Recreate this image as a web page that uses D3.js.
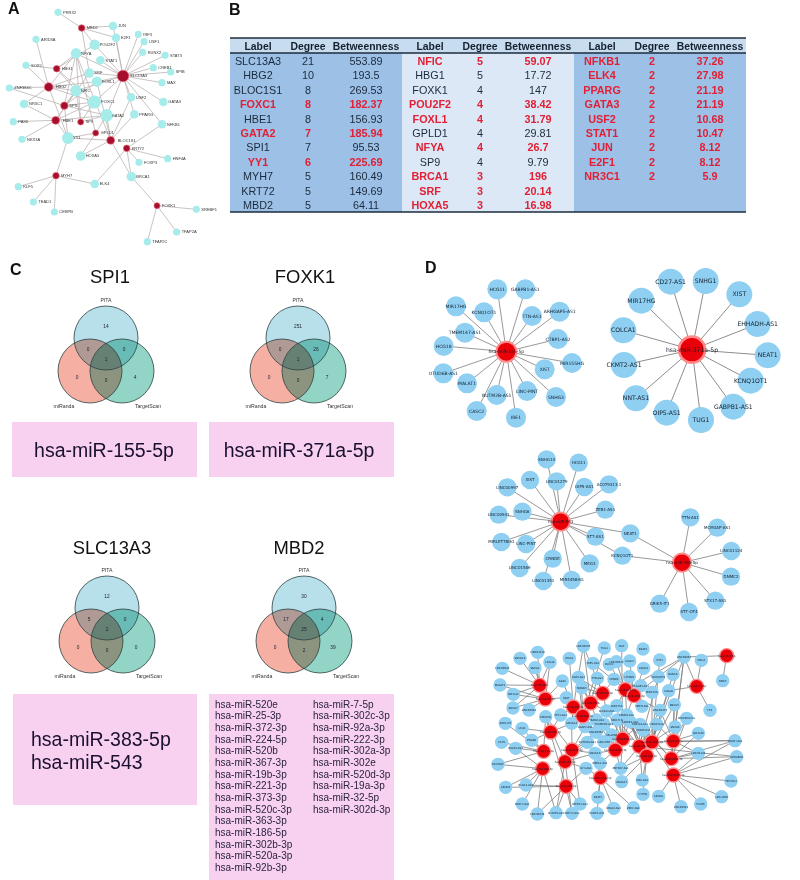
<!DOCTYPE html>
<html>
<head>
<meta charset="utf-8">
<style>
  html, body { margin: 0; background: #fff; }
  svg { display: block; filter: blur(0.35px); }
  text { font-family: "Liberation Sans", Arial, sans-serif; }
  .net text { font-family: "DejaVu Sans", sans-serif; }
</style>
<script src="https://cdn.jsdelivr.net/npm/d3@7"></script>
</head>
<body>
<svg class="vis" width="800" height="880"></svg>
<script>
// ---- panel B table
const tfLabels = [
  ['SLC13A3','HBG2','BLOC1S1','FOXC1','HBE1','GATA2','SPI1','YY1','MYH7','KRT72','MBD2'],
  ['NFIC','HBG1','FOXK1','POU2F2','FOXL1','GPLD1','NFYA','SP9','BRCA1','SRF','HOXA5'],
  ['NFKB1','ELK4','PPARG','GATA3','USF2','STAT1','JUN','E2F1','NR3C1']
];
const tfDegree = [
  [21,10,8,8,8,7,7,6,5,5,5],
  [5,5,4,4,4,4,4,4,3,3,3],
  [2,2,2,2,2,2,2,2,2]
];
const tfBetweenness = [
  ['553.89','193.5','269.53','182.37','156.93','185.94','95.53','225.69','160.49','149.69','64.11'],
  ['59.07','17.72','147','38.42','31.79','29.81','26.7','9.79','196','20.14','16.98'],
  ['37.26','27.98','21.19','21.19','10.68','10.47','8.12','8.12','5.9']
];
const tfNotHighlighted = ['SLC13A3','HBG2','BLOC1S1','HBE1','SPI1','MYH7','KRT72','MBD2','HBG1','FOXK1','GPLD1','SP9'];
const tableHeads = ['Label','Degree','Betweenness'];

// ---- panel A network: layout [name, x, y]
const geneNodes = [
  ['SLC13A3',369,228],['HBG2',146,261],['BLOC1S1',332,421],['HBE1',167,361],['SPI1',193,317],
  ['MYH7',168,527],['KRT72',380,445],['MBD2',245,84],['HBG1',170,206],['FOXK1',471,617],
  ['GPLD1',287,399],['SP9',242,366]
];
const tfNodes = [
  ['PRRX2',174,37],['JUN',339,78],['E2F1',348,113],['IRF3',415,103],['USF1',432,125],['RUNX2',428,157],
  ['STAT3',495,166],['CREB1',460,203],['SPIB',512,216],['MAX',486,248],['GATA3',490,306],['USF2',393,292],
  ['PPARG',403,343],['NFKB1',486,373],['POU2F2',284,134],['NFYA',228,160],['STAT1',301,181],['SRF',268,219],
  ['FOXL1',291,245],['NFIC',228,272],['FOXC1',283,306],['GATA2',320,346],['YY1',204,414],['HOXA5',242,468],
  ['FOXP3',417,487],['HNF4A',503,476],['BRCA1',394,530],['ELK4',284,552],['ARID3A',108,118],['SOX5',78,196],
  ['ZNF384C',28,264],['NR3C1',72,312],['PAX6',40,365],['NKX3A',66,418],['KLF5',55,560],['TEAD1',100,606],
  ['CEBPB',163,636],['SREBF1',589,628],['TFAP2A',530,696],['TFAP2C',442,725]
];
const geneLinks = {
  SLC13A3: ['JUN','E2F1','IRF3','USF1','RUNX2','STAT3','CREB1','SPIB','MAX','GATA3','USF2','PPARG','NFKB1','POU2F2','NFYA','STAT1','SRF','FOXL1','FOXC1','GATA2','NFIC'],
  HBG2: ['ARID3A','SOX5','ZNF384C','NR3C1','NFYA','SRF','NFIC','FOXC1','YY1','FOXL1'],
  HBG1: ['NFYA','SOX5','POU2F2','FOXC1','NFIC'],
  BLOC1S1: ['GATA2','FOXL1','HOXA5','YY1','BRCA1','USF2','PPARG','NFYA'],
  HBE1: ['NR3C1','PAX6','NKX3A','YY1','NFIC','FOXC1','GATA2','SRF'],
  SPI1: ['NFIC','FOXC1','NFYA','YY1','ZNF384C','FOXL1','GATA2'],
  MYH7: ['YY1','KLF5','TEAD1','CEBPB','ELK4'],
  KRT72: ['FOXP3','HNF4A','BRCA1','ELK4','NFKB1'],
  MBD2: ['PRRX2','JUN','E2F1','POU2F2','SRF'],
  GPLD1: ['YY1','GATA2','HOXA5','NFYA'],
  SP9: ['FOXC1','NFIC','GATA2','NFYA'],
  FOXK1: ['BRCA1','SREBF1','TFAP2A','TFAP2C']
};

// ---- panel C venns: [only PITA, PITA+miRanda, PITA+TargetScan, all, only miRanda, miRanda+TargetScan, only TargetScan]
const vennTitles = ['SPI1','FOXK1','SLC13A3','MBD2'];
const vennCounts = [
  [14,0,0,1,0,0,4],
  [251,0,26,1,0,0,7],
  [12,5,0,2,0,0,0],
  [30,17,4,25,0,2,39]
];
const vennSets = ['PITA','miRanda','TargetScan'];
const mirBox1 = ['hsa-miR-155-5p'];
const mirBox2 = ['hsa-miR-371a-5p'];
const mirBox3 = ['hsa-miR-383-5p','hsa-miR-543'];
const mirListA = ['hsa-miR-520e','hsa-miR-25-3p','hsa-miR-372-3p','hsa-miR-224-5p','hsa-miR-520b','hsa-miR-367-3p','hsa-miR-19b-3p','hsa-miR-221-3p','hsa-miR-373-3p','hsa-miR-520c-3p','hsa-miR-363-3p','hsa-miR-186-5p','hsa-miR-302b-3p','hsa-miR-520a-3p','hsa-miR-92b-3p'];
const mirListB = ['hsa-miR-7-5p','hsa-miR-302c-3p','hsa-miR-92a-3p','hsa-miR-222-3p','hsa-miR-302a-3p','hsa-miR-302e','hsa-miR-520d-3p','hsa-miR-19a-3p','hsa-miR-32-5p','hsa-miR-302d-3p'];

// ---- panel D networks: layout [name, x, y]
const star155Hub = ['hsa-miR-155-5p',289,290];
const star155Leaves = [
  ['HCG11',262,103],['GABPB1-AS1',346,103],['MIR17HG',138,154],['KCNQ1OT1',222,172],['TTN-AS1',366,183],
  ['ARHGAP5-AS1',449,170],['TMEM147-AS1',165,233],['CTBP1-AS2',444,252],['HCG18',101,273],['MIR155HG',486,324],
  ['OTUD6B-AS1',100,355],['XIST',404,343],['MALAT1',171,385],['LINC-PINT',351,408],['NUTM2B-AS1',260,420],
  ['SNHG3',438,426],['CASC2',200,468],['IRE1',318,488]
];
const star371Hub = ['hsa-miR-371a-5p',846,284];
const star371Leaves = [
  ['CD27-AS1',782,80],['SNHG1',887,78],['XIST',988,118],['MIR17HG',694,137],['EHHADH-AS1',1043,207],
  ['COLCA1',640,226],['NEAT1',1073,301],['CKMT2-AS1',642,330],['KCNQ1OT1',1022,377],['NNT-AS1',678,430],
  ['GABPB1-AS1',970,455],['OIP5-AS1',770,473],['TUG1',873,495]
];
const pairHubs = [['hsa-miR-543',332,245],['hsa-miR-383-5p',696,368]];
const pairLeaves = [
  ['SNHG14',290,58],['HCG11',386,68],['XIST',240,120],['LINC01279',320,124],['OIP5-AS1',403,141],
  ['AC079313.1',477,133],['LINC00997',172,142],['ZEB1-AS1',466,209],['LINC00941',146,224],['SNHG6',217,215],
  ['ST7-AS1',436,290],['NEAT1',541,280],['MIRLET7BHG',154,306],['LINC-PINT',228,312],['CRNDE',308,356],
  ['LINC01589',209,384],['MEG3',419,370],['MIR4458HG',365,420],['LINC01351',280,423],['KCNQ1OT1',517,347],
  ['TTN-AS1',721,232],['MCM3AP-AS1',802,263],['LINC01124',844,333],['DNMC2',843,410],['STX17-AS1',796,482],
  ['ST7-OT4',717,516],['GRIK5-IT1',629,491]
];
const pairLinksA = ['SNHG14','HCG11','XIST','LINC01279','OIP5-AS1','AC079313.1','LINC00997','ZEB1-AS1','LINC00941','SNHG6','ST7-AS1','NEAT1','MIRLET7BHG','LINC-PINT','CRNDE','LINC01589','MEG3','MIR4458HG','LINC01351','KCNQ1OT1'];
const pairLinksB = ['NEAT1','KCNQ1OT1','TTN-AS1','MCM3AP-AS1','LINC01124','DNMC2','STX17-AS1','ST7-OT4','GRIK5-IT1'];

const denseHubs = [
  ['hsa-miR-7-5p',740,62],['hsa-miR-32-5p',650,154],['hsa-miR-520e',179,151],['hsa-miR-25-3p',196,192],
  ['hsa-miR-372-3p',368,175],['hsa-miR-224-5p',436,164],['hsa-miR-302c-3p',462,182],['hsa-miR-520b',332,204],
  ['hsa-miR-367-3p',280,216],['hsa-miR-19b-3p',308,243],['hsa-miR-221-3p',212,291],['hsa-miR-92a-3p',428,312],
  ['hsa-miR-222-3p',478,334],['hsa-miR-302a-3p',516,321],['hsa-miR-302e',580,318],['hsa-miR-373-3p',191,349],
  ['hsa-miR-520c-3p',276,345],['hsa-miR-520d-3p',406,345],['hsa-miR-19a-3p',500,363],['hsa-miR-302d-3p',574,371],
  ['hsa-miR-363-3p',255,380],['hsa-miR-186-5p',188,401],['hsa-miR-302b-3p',580,420],['hsa-miR-520a-3p',361,428],
  ['hsa-miR-92b-3p',258,454]
];
const denseLeaves = [
  ['LINC00265',310,33],['TUG1',373,39],['XIST',425,32],['NEAT1',489,42],['LINC00667',612,66],['MEG3',664,76],
  ['SNHG16',120,70],['LINC01128',173,52],['ZFAS1',268,70],['HCG18',210,82],['SNHG1',165,98],['LINC00943',67,100],
  ['MALAT1',60,150],['SNHG12',100,178],['GAS5',247,138],['FGD5-AS1',295,127],['TTN-AS1',352,130],['OIP5-AS1',339,85],
  ['DLEU2',388,88],['LINC00921',409,80],['CASC2',449,78],['SNHG3',491,100],['PVT1',539,75],['KCNQ1OT1',535,125],
  ['DANCR',579,118],['HOTAIR',448,125],['CRNDE',402,133],['RMST',728,137],['NORAD',305,158],['MIAT',259,188],
  ['SNHG7',99,219],['LINC00662',147,225],['EMX2OS',197,245],['SOX2-OT',76,265],['UCA1',126,280],['TP73-AS1',242,240],
  ['HAGLR',566,167],['MIR22HG',516,172],['DLGAP1-AS1',482,152],['SNHG5',583,209],['TMPO-AS1',486,214],['LINC00472',540,226],
  ['FTX',690,226],['MIR29B2CHG',620,250],['SNHG6',585,276],['LINC01128',530,268],['FAM13A-AS1',480,268],['SNHG14',275,265],
  ['AGAP2-AS1',316,275],['TRAM2-AS1',350,255],['SLC9A3-AS1',380,228],['LRRC75A',410,212],['PSMD5-AS1',440,240],['THUMPD3-AS1',372,268],
  ['MIR17HG',412,255],['GABPB1-AS1',450,260],['LINC00963',348,292],['LINC-PINT',372,320],['NUTM2A-AS1',322,322],['RPARP-AS1',490,285],
  ['SNHG20',655,295],['HCP5',65,322],['BASP1-AS1',107,340],['PWAR6',155,316],['SNHG10',345,355],['MCM3AP',54,388],
  ['ILF3-AS1',318,400],['MBNL1-AS1',360,385],['ZNF667-AS1',422,400],['SNHG17',425,440],['DBH-AS1',487,435],['LINC01184',655,355],
  ['TDRKH-AS1',765,317],['HOTAIRM1',770,365],['TP53TG1',753,438],['LINC-ROR',725,485],['PCAT6',662,507],['LINC00641',603,515],
  ['SNHG8',536,484],['CYTOR',489,478],['SNHG9',77,457],['RUSC1-AS1',138,450],['NR2F2-AS1',127,507],['LINC00346',172,537],
  ['SH3BP5-AS1',228,533],['WDFY3-AS2',276,535],['ATP2B1-AS1',300,507],['NEAT2',354,487],['PAXIP1-AS2',351,535],['MAGI2-AS3',401,520],
  ['ZEB2-AS1',460,518],['HELLPAR',395,300]
];
const denseLinks = [
  [27,4],[5,42,4,36],[6,7,10,11,12,13,9,30],[9,10,13,30,31,12,14,29],[16,15,26,50,28,0],
  [17,18,19,25,26,51,52,4],[20,21,25,38,4,40,52,41],[15,16,28,50,49,47,0],[0,8,14,29,35,47,48],[15,28,47,48,49,56,1],
  [34,32,35,63,47],[51,54,53,55,91,68,46,50,52,2],[46,59,45,55,23,68,70,52,54,73,41],[45,59,44,4,36,37,22,24,72,55,54],[44,60,43,39,4,71,41,72,45],
  [63,61,62,65,34,33,32],[58,47,32,64,56,86,48],[57,91,54,67,68,56,64,53,49],[59,70,68,79,69,39,52,45,55],[71,60,44,39,43,4,73,72,46,59],
  [58,64,66,32,84,85],[65,80,81,82,83,62,84],[72,73,74,75,76,77,78,71,59],[66,67,87,88,89,90,64],[80,81,83,84,85,86,66,32]
];

// ---- drawing
const svg = d3.select('svg.vis');

const layoutScales = (ox, oy) => ({
  x: d3.scaleLinear().domain([0, 300]).range([ox, ox + 100]),
  y: d3.scaleLinear().domain([0, 300]).range([oy, oy + 100])
});

const panelLetter = (txt, x, y) => {
  svg.append('text').text(txt).attr('x', x).attr('y', y)
    .attr('font-size', 16).attr('font-weight', 'bold').attr('fill', '#111');
};

const drawTfNetwork = () => {
  const s = layoutScales(0, 0);
  const g = svg.append('g').attr('class', 'panel-a');
  const all = new Map(geneNodes.concat(tfNodes).map(d => [d[0], d]));
  const degree = new Map(tfLabels.flat().map((l, i) => [l, tfDegree.flat()[i]]));
  const rGene = d3.scaleSqrt().domain([4, 21]).range([3, 5.8]);
  const rTf = d3.scaleSqrt().domain([1, 8]).range([3.6, 6.6]);

  const links = Object.entries(geneLinks).flatMap(([a, bs]) => bs.map(b => [a, b]));
  g.selectAll('line').data(links).join('line')
    .attr('x1', d => s.x(all.get(d[0])[1])).attr('y1', d => s.y(all.get(d[0])[2]))
    .attr('x2', d => s.x(all.get(d[1])[1])).attr('y2', d => s.y(all.get(d[1])[2]))
    .attr('stroke', '#bcb4b4').attr('stroke-width', 0.8);

  g.selectAll('circle.tf').data(tfNodes).join('circle').attr('class', 'tf')
    .attr('cx', d => s.x(d[1])).attr('cy', d => s.y(d[2]))
    .attr('r', d => rTf(degree.get(d[0]) || 1))
    .attr('fill', '#a6eceb');
  g.selectAll('circle.gene').data(geneNodes).join('circle').attr('class', 'gene')
    .attr('cx', d => s.x(d[1])).attr('cy', d => s.y(d[2]))
    .attr('r', d => rGene(degree.get(d[0])))
    .attr('fill', '#a50f2d').attr('stroke', '#e9626f').attr('stroke-width', 0.7);

  g.selectAll('text').data(geneNodes.concat(tfNodes)).join('text')
    .text(d => d[0])
    .attr('x', d => s.x(d[1]) + (degree.get(d[0]) > 7 ? 7 : 5)).attr('y', d => s.y(d[2]) + 1.4)
    .attr('font-size', 4).attr('fill', '#333');
};

const drawTable = () => {
  const g = svg.append('g').attr('class', 'panel-b');
  const groupX = d3.scaleLinear().domain([0, 3]).range([230, 746]);
  const rowY = d3.scaleLinear().domain([0, 10]).range([61, 205]);
  const colOffset = d3.scaleOrdinal().domain(tableHeads).range([28, 78, 136]);
  const bands = ['#9cc0e6', '#dce8f6', '#9cc0e6'];

  tfLabels.forEach((labels, i) => {
    g.append('rect').attr('x', groupX(i)).attr('y', 38)
      .attr('width', groupX(i + 1) - groupX(i)).attr('height', 174).attr('fill', bands[i]);
  });
  g.append('rect').attr('x', 230).attr('y', 38).attr('width', 516).attr('height', 15).attr('fill', '#c8dcf0');
  [38, 53, 212].forEach(y => {
    g.append('line').attr('x1', 230).attr('x2', 746).attr('y1', y).attr('y2', y)
      .attr('stroke', '#1d2c3c').attr('stroke-width', 1.3);
  });

  tfLabels.forEach((labels, i) => {
    const x0 = groupX(i);
    tableHeads.forEach(h => {
      g.append('text').text(h).attr('x', x0 + colOffset(h)).attr('y', 50)
        .attr('text-anchor', 'middle').attr('font-size', 10.4).attr('font-weight', 'bold').attr('fill', '#14202e');
    });
    labels.forEach((l, r) => {
      const hot = !tfNotHighlighted.includes(l);
      const cells = [l, tfDegree[i][r], tfBetweenness[i][r]];
      cells.forEach((c, k) => {
        g.append('text').text(c)
          .attr('x', x0 + colOffset(tableHeads[k])).attr('y', rowY(r) + 3.9)
          .attr('text-anchor', 'middle').attr('font-size', 10.8)
          .attr('font-weight', hot ? 'bold' : 'normal')
          .attr('fill', hot ? '#e21f35' : '#1b2a3c');
      });
    });
  });
};

const drawVenn = (i, cx, topY) => {
  const g = svg.append('g').attr('class', 'venn');
  const vx = d3.scaleLinear().domain([-1, 1]).range([cx - 16, cx + 16]);
  const circles = [
    { set: vennSets[0], x: 0, y: 0, fill: '#b7e0ea' },
    { set: vennSets[1], x: -1, y: 33, fill: '#f5b0a3' },
    { set: vennSets[2], x: 1, y: 33, fill: '#92d5c6' }
  ];
  g.selectAll('circle.fill').data(circles).join('circle').attr('class', 'fill')
    .attr('cx', d => vx(d.x)).attr('cy', d => topY + d.y).attr('r', 32)
    .attr('fill', d => d.fill).style('mix-blend-mode', 'multiply');
  g.selectAll('circle.ring').data(circles).join('circle').attr('class', 'ring')
    .attr('cx', d => vx(d.x)).attr('cy', d => topY + d.y).attr('r', 32)
    .attr('fill', 'none').attr('stroke', '#2c4040').attr('stroke-width', 0.8);

  // count positions inside the seven regions
  const spots = [[0, -12], [-18, 11], [18, 11], [0, 21], [-29, 39], [0, 42], [29, 39]];
  spots.forEach((p, k) => {
    g.append('text').text(vennCounts[i][k]).attr('x', cx + p[0]).attr('y', topY + p[1] + 1.6)
      .attr('text-anchor', 'middle').attr('font-size', 4.8).attr('fill', '#223');
  });
  g.append('text').text(vennSets[0]).attr('x', cx).attr('y', topY - 36)
    .attr('text-anchor', 'middle').attr('font-size', 5.2).attr('fill', '#333');
  g.append('text').text(vennSets[1]).attr('x', cx - 42).attr('y', topY + 70)
    .attr('text-anchor', 'middle').attr('font-size', 5.2).attr('fill', '#333');
  g.append('text').text(vennSets[2]).attr('x', cx + 42).attr('y', topY + 70)
    .attr('text-anchor', 'middle').attr('font-size', 5.2).attr('fill', '#333');
};

const drawVennPanel = () => {
  const titleSpots = [[110, 283], [305, 283], [112, 554], [299, 554]];
  const vennSpots = [[106, 338], [298, 338], [107, 608], [304, 608]];
  vennTitles.forEach((t, i) => {
    svg.append('text').text(t).attr('x', titleSpots[i][0]).attr('y', titleSpots[i][1])
      .attr('text-anchor', 'middle').attr('font-size', 18.4).attr('fill', '#111');
    drawVenn(i, vennSpots[i][0], vennSpots[i][1]);
  });

  const pink = '#f8d0f0';
  const box = (x, y, w, h) => svg.append('rect').attr('x', x).attr('y', y)
    .attr('width', w).attr('height', h).attr('fill', pink);
  box(12, 422, 185, 55);
  box(209, 422, 185, 55);
  box(13, 694, 184, 111);
  box(209, 694, 185, 186);

  const big = (txt, x, y, anchor) => svg.append('text').text(txt).attr('x', x).attr('y', y)
    .attr('text-anchor', anchor).attr('font-size', 19.5).attr('fill', '#1a1030');
  big(mirBox1[0], 104, 457, 'middle');
  big(mirBox2[0], 299, 457, 'middle');
  mirBox3.forEach((m, i) => big(m, 31, 746 + i * 23, 'start'));

  const listY = d3.scaleLinear().domain([0, 14]).range([707.5, 871]);
  [[mirListA, 215], [mirListB, 313]].forEach(([list, x]) => {
    svg.append('g').selectAll('text').data(list).join('text')
      .text(d => d).attr('x', x).attr('y', (d, i) => listY(i))
      .attr('font-size', 10).attr('fill', '#2a2440');
  });
};

const drawHubNet = (ox, oy, hubs, leaves, links, opt) => {
  const s = layoutScales(ox, oy);
  const g = svg.append('g').attr('class', 'net');
  const leafBy = new Map(leaves.map(d => [d[0], d]));
  const lines = [];
  hubs.forEach((h, i) => links[i].forEach(l => lines.push([h, typeof l === 'number' ? leaves[l] : leafBy.get(l)])));

  g.selectAll('line').data(lines).join('line')
    .attr('x1', d => s.x(d[0][1])).attr('y1', d => s.y(d[0][2]))
    .attr('x2', d => s.x(d[1][1])).attr('y2', d => s.y(d[1][2]))
    .attr('stroke', opt.edgeColor).attr('stroke-width', opt.edge);
  g.selectAll('circle.leaf').data(leaves).join('circle').attr('class', 'leaf')
    .attr('cx', d => s.x(d[1])).attr('cy', d => s.y(d[2])).attr('r', opt.leafR)
    .attr('fill', '#8ecff2');
  g.selectAll('circle.hub').data(hubs).join('circle').attr('class', 'hub')
    .attr('cx', d => s.x(d[1])).attr('cy', d => s.y(d[2])).attr('r', opt.hubR)
    .attr('fill', '#e90008').attr('stroke', '#ff8a8a').attr('stroke-width', opt.hubR * 0.2);
  g.selectAll('text').data(leaves.concat(hubs)).join('text')
    .text(d => d[0]).attr('x', d => s.x(d[1])).attr('y', d => s.y(d[2]) + opt.font * 0.35)
    .attr('text-anchor', 'middle').attr('font-size', opt.font).attr('fill', '#14202e');
};

panelLetter('A', 8, 14);
panelLetter('B', 229, 15);
panelLetter('C', 10, 275);
panelLetter('D', 425, 273);

drawTfNetwork();
drawTable();
drawVennPanel();

drawHubNet(410, 255, [star155Hub], star155Leaves, [star155Leaves.map(d => d[0])],
  { leafR: 10, hubR: 10, font: 4.5, edge: 0.9, edgeColor: '#8d8d8d' });
drawHubNet(410, 255, [star371Hub], star371Leaves, [star371Leaves.map(d => d[0])],
  { leafR: 13, hubR: 13, font: 6.1, edge: 1, edgeColor: '#8d8d8d' });
drawHubNet(450, 440, pairHubs, pairLeaves, [pairLinksA, pairLinksB],
  { leafR: 9.2, hubR: 9.2, font: 4, edge: 0.9, edgeColor: '#8d8d8d' });
drawHubNet(480, 635, denseHubs, denseLeaves, denseLinks,
  { leafR: 6.7, hubR: 7, font: 2.6, edge: 0.8, edgeColor: '#7d7d7d' });
</script>
</body>
</html>
